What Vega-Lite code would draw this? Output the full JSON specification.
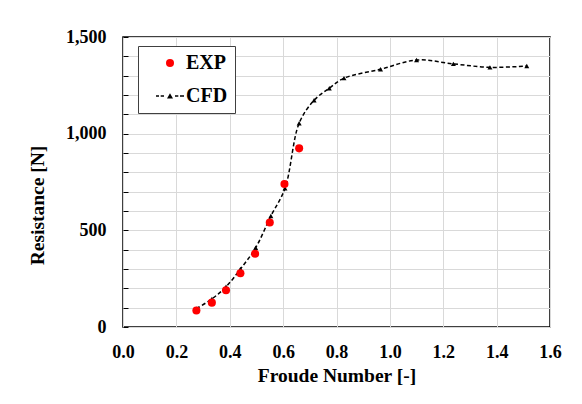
{
  "$schema": "https://vega.github.io/schema/vega-lite/v6.json",
  "width": 427,
  "height": 290,
  "autosize": "none",
  "padding": {"left": 123, "top": 37, "right": 32, "bottom": 77},
  "background": "white",
  "config": {
    "view": {"stroke": "black", "strokeWidth": 1.5},
    "font": "Liberation Serif"
  },
  "data": {
    "values": [
      {"series": "EXP", "fr": 0.275, "r": 85},
      {"series": "EXP", "fr": 0.333, "r": 126},
      {"series": "EXP", "fr": 0.386, "r": 190},
      {"series": "EXP", "fr": 0.44, "r": 278},
      {"series": "EXP", "fr": 0.495, "r": 379},
      {"series": "EXP", "fr": 0.55, "r": 541},
      {"series": "EXP", "fr": 0.605, "r": 740},
      {"series": "EXP", "fr": 0.66, "r": 924},
      {"series": "CFD", "fr": 0.275, "r": 95},
      {"series": "CFD", "fr": 0.333, "r": 145},
      {"series": "CFD", "fr": 0.386, "r": 208},
      {"series": "CFD", "fr": 0.44, "r": 300},
      {"series": "CFD", "fr": 0.497, "r": 410},
      {"series": "CFD", "fr": 0.554, "r": 574},
      {"series": "CFD", "fr": 0.607, "r": 717},
      {"series": "CFD", "fr": 0.66, "r": 1054},
      {"series": "CFD", "fr": 0.716, "r": 1173},
      {"series": "CFD", "fr": 0.773, "r": 1235},
      {"series": "CFD", "fr": 0.828, "r": 1287},
      {"series": "CFD", "fr": 0.965, "r": 1333},
      {"series": "CFD", "fr": 1.1, "r": 1381},
      {"series": "CFD", "fr": 1.238, "r": 1361},
      {"series": "CFD", "fr": 1.375, "r": 1343},
      {"series": "CFD", "fr": 1.513, "r": 1350}
    ]
  },
  "encoding": {
    "x": {
      "field": "fr",
      "type": "quantitative",
      "scale": {"domain": [0, 1.6], "nice": false, "zero": false},
      "axis": {
        "title": "Froude Number [-]",
        "values": [0, 0.2, 0.4, 0.6, 0.8, 1.0, 1.2, 1.4, 1.6],
        "format": ".1f",
        "grid": true,
        "gridColor": "#d9d9d9",
        "gridWidth": 1,
        "ticks": false,
        "domain": false,
        "labelFlush": false,
        "labelFont": "Liberation Serif",
        "labelFontWeight": "bold",
        "labelFontSize": 18,
        "labelColor": "black",
        "labelPadding": 16,
        "titleFont": "Liberation Serif",
        "titleFontWeight": "bold",
        "titleFontSize": 19.5,
        "titleColor": "black",
        "titlePadding": 5
      }
    },
    "y": {
      "field": "r",
      "type": "quantitative",
      "scale": {"domain": [0, 1500], "nice": false},
      "axis": {
        "title": "Resistance [N]",
        "values": [0, 100, 200, 300, 400, 500, 600, 700, 800, 900, 1000, 1100, 1200, 1300, 1400, 1500],
        "labelExpr": "datum.value % 500 === 0 ? format(datum.value, ',') : ''",
        "grid": true,
        "gridColor": "#d9d9d9",
        "gridWidth": 1,
        "ticks": true,
        "tickSize": -5,
        "tickColor": "black",
        "domain": false,
        "labelFlush": false,
        "labelFont": "Liberation Serif",
        "labelFontWeight": "bold",
        "labelFontSize": 18,
        "labelColor": "black",
        "labelPadding": 22,
        "titleFont": "Liberation Serif",
        "titleFontWeight": "bold",
        "titleFontSize": 19.5,
        "titleColor": "black",
        "titlePadding": 18,
        "titleY": 168
      }
    }
  },
  "layer": [
    {
      "transform": [{"filter": "datum.series === 'CFD'"}],
      "mark": {"type": "line", "color": "black", "strokeDash": [4, 2.5], "strokeWidth": 1.5, "interpolate": "catmull-rom"}
    },
    {
      "transform": [{"filter": "datum.series === 'CFD'"}],
      "mark": {"type": "point", "shape": "triangle-up", "filled": true, "color": "black", "size": 25, "opacity": 1}
    },
    {
      "transform": [{"filter": "datum.series === 'EXP'"}],
      "mark": {"type": "point", "filled": true, "size": 65, "opacity": 1},
      "encoding": {
        "color": {
          "field": "series",
          "type": "nominal",
          "scale": {"domain": ["EXP", "CFD"], "range": ["#ff0000", "black"]},
          "legend": {
            "title": null,
            "orient": "none",
            "legendX": 15,
            "legendY": 9,
            "padding": 7,
            "strokeColor": "#404040",
            "fillColor": "white",
            "symbolSize": 64,
            "symbolOffset": 15,
            "symbolStrokeWidth": 0,
            "labelFont": "Liberation Serif",
            "labelFontWeight": "bold",
            "labelFontSize": 20,
            "labelColor": "black",
            "labelOffset": 6,
            "rowPadding": 13,
            "labelExpr": "datum.label + '\u00a0\u00a0\u00a0\u00a0\u00a0\u00a0'"
          }
        },
        "shape": {
          "field": "series",
          "type": "nominal",
          "scale": {
            "domain": ["EXP", "CFD"],
            "range": ["circle", "M-3.5,-0.17H-2.75V0.17H-3.5Z M-2.33,-0.17H-1.5V0.17H-2.33Z M-0.75,0.6L0,-0.7L0.75,0.6Z M1.25,-0.17H2.08V0.17H1.25Z M2.5,-0.17H3.5V0.17H2.5Z"]
          }
        }
      }
    }
  ]
}
